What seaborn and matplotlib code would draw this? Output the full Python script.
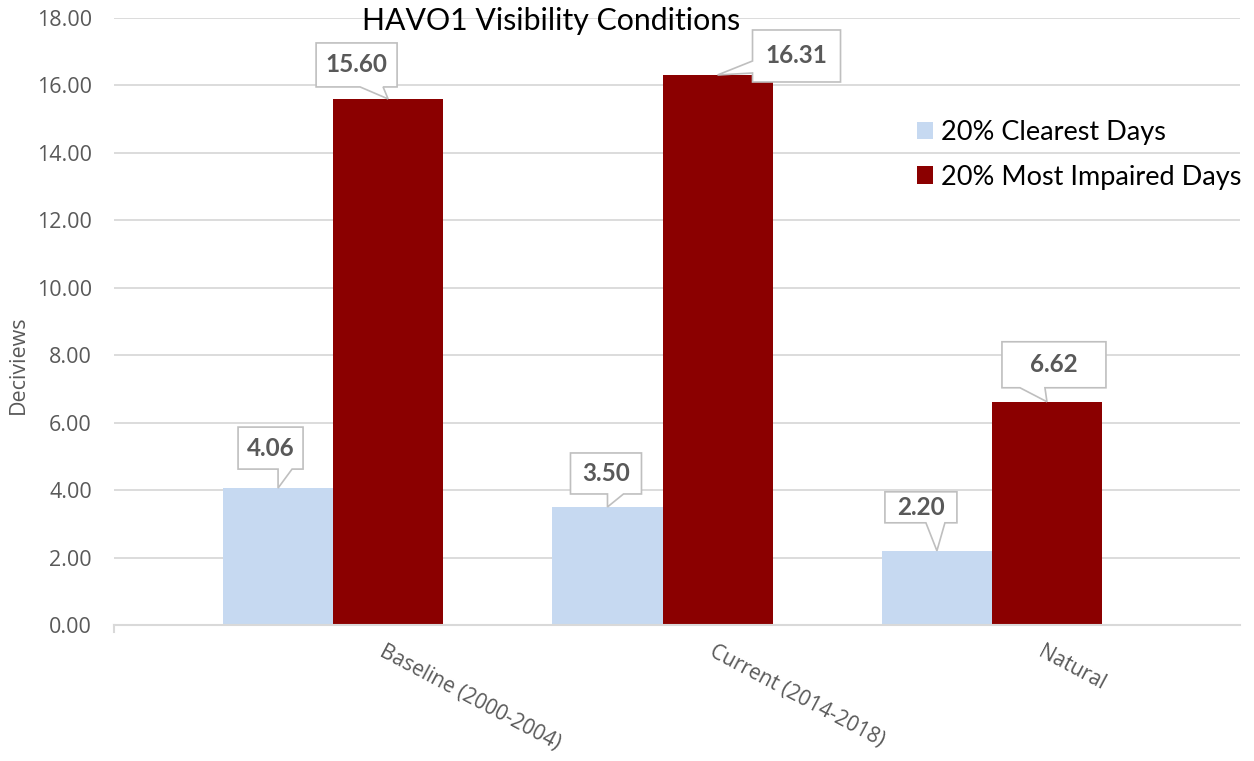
import pandas as pd
import seaborn as sns
import matplotlib.pyplot as plt
import matplotlib.transforms as mtransforms
from matplotlib.patches import Polygon

# Données du graphique
categories = ["Baseline (2000-2004)", "Current (2014-2018)", "Natural"]
series_names = ["20% Clearest Days", "20% Most Impaired Days"]
clearest = [4.06, 3.50, 2.20]
impaired = [15.60, 16.31, 6.62]
y_ticks = [0, 2, 4, 6, 8, 10, 12, 14, 16, 18]

df = pd.DataFrame({
    "Category": categories * 2,
    "Series": [series_names[0]] * 3 + [series_names[1]] * 3,
    "Deciviews": clearest + impaired,
})

# Bulles : (x0, x1, y0, y1) en pixels par rapport à la pointe, côté et base du pointeur
callouts = [
    [(-40, 25, 19, 61, "bottom", 0, 14),
     (-37, 34, 13, 54, "bottom", 0, 16),
     (-52, 20, 28, 59, "bottom", -11, 8)],
    [(-72, 9, 12, 56, "bottom", -28, -5),
     (35, 123, -7, 45, "left", 2, 14),
     (-45, 59, 14, 60, "bottom", -27, -2)],
]

W, H = 1254, 761
fig = plt.figure(figsize=(W / 100, H / 100), dpi=100)
ax = fig.add_axes([114 / W, 1 - 625 / H, (1240 - 114) / W, (625 - 18) / H])

palette = {series_names[0]: "#C6D9F1", series_names[1]: "#8B0000"}
sns.barplot(data=df, x="Category", y="Deciviews", hue="Series", palette=palette,
            width=0.668, saturation=1, ax=ax, legend=True)

ax.set_xlim(-0.665, 2.753)
ax.set_ylim(0, 18)
ax.set_yticks(y_ticks)
ax.set_yticklabels([f"{v:.2f}" for v in y_ticks])
ax.grid(axis="y", color="#D9D9D9", linewidth=1.3)
ax.set_axisbelow(True)
for s in ["top", "right", "left"]:
    ax.spines[s].set_visible(False)
ax.spines["bottom"].set_color("#D9D9D9")
ax.spines["bottom"].set_linewidth(1.5)
ax.tick_params(axis="y", length=0, pad=16, labelsize=15.5, labelcolor="#595959")
ax.tick_params(axis="x", length=0, pad=12, labelsize=15, labelcolor="#595959")
for lab in ax.get_yticklabels():
    lab.set_fontfamily("Open Sans")
offset = mtransforms.ScaledTranslation(0.53, 0, fig.dpi_scale_trans)
for lab in ax.get_xticklabels():
    lab.set_fontfamily("Open Sans")
    lab.set_rotation(-28)
    lab.set_rotation_mode("anchor")
    lab.set_ha("left")
    lab.set_va("top")
    lab.set_transform(lab.get_transform() + offset)
# petit trait à gauche de l'axe
ax.plot([0, 0], [0, -0.012], transform=ax.transAxes, color="#D9D9D9",
        linewidth=1.5, clip_on=False)

ax.set_xlabel("")
ax.set_ylabel("Deciviews", fontsize=15.5, color="#595959", family="Open Sans", va="center")
ax.yaxis.set_label_coords(-0.085, (625 - 365) / 607)

fig.text(551 / W, 1 - 21 / H, "HAVO1 Visibility Conditions", ha="center", va="center",
         fontsize=21.8, family="Lato", color="black")

leg = ax.legend(loc="upper left", bbox_to_anchor=(917 / W, 1 - 120 / H),
                bbox_transform=fig.transFigure, frameon=False, title=None,
                prop={"family": "Lato", "size": 19.5}, handlelength=0.6,
                handleheight=0.6, handletextpad=0.3, labelspacing=0.72,
                borderpad=0, borderaxespad=0)

# Étiquettes en bulle
fig.canvas.draw()
for cont, specs in zip(ax.containers, callouts):
    for bar, spec in zip(cont, specs):
        x0, x1, y0, y1, side, b0, b1 = spec
        tx = bar.get_x() + bar.get_width() / 2
        ty = bar.get_height()
        px, py = ax.transData.transform((tx, ty))
        if side == "bottom":
            verts = [(x0, y0), (b0, y0), (0, 0), (b1, y0), (x1, y0), (x1, y1), (x0, y1)]
        else:
            verts = [(x0, y0), (x1, y0), (x1, y1), (x0, y1), (x0, b1), (0, 0), (x0, b0)]
        tr = mtransforms.Affine2D().translate(px, py)
        poly = Polygon(verts, closed=True, facecolor="white", edgecolor="#BFBFBF",
                       linewidth=1.2, transform=tr, zorder=5)
        fig.add_artist(poly)
        fig.text((px + (x0 + x1) / 2) / W, (py + (y0 + y1) / 2) / H, f"{ty:.2f}",
                 ha="center", va="center", fontsize=17.5, fontweight="bold",
                 family="Lato", color="#595959", zorder=6)

fig.savefig("out.png", dpi=100)
